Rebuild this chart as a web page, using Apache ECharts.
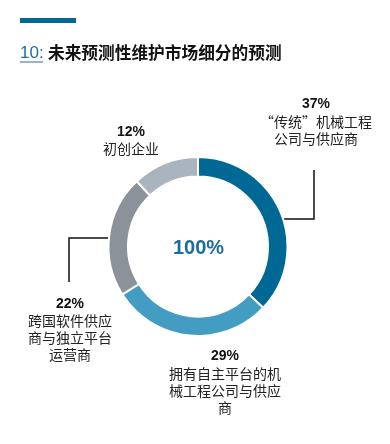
<!DOCTYPE html>
<html><head><meta charset="utf-8">
<script src="https://cdn.jsdelivr.net/npm/echarts@6/dist/echarts.min.js"></script>
<style>html,body{margin:0;padding:0;background:#fff}#c{width:390px;height:444px}</style>
</head><body><div id="c"></div>
<script>
const categories = ['“传统”机械工程\n公司与供应商', '拥有自主平台的机\n械工程公司与供应\n商', '跨国软件供应\n商与独立平台\n运营商', '初创企业'];
const values = [37, 29, 22, 12];
const colors = ['#006894', '#439cc1', '#8b9299', '#aab4bf'];
const labelAnchors = [[316, 96], [225, 348], [70, 295.5], [131, 123.5]];

const chart = echarts.init(document.getElementById('c'), null, {renderer: 'canvas'});
const FONT = '"Noto Sans CJK SC", "Liberation Sans", sans-serif';
chart.setOption({
  animation: false,
  graphic: [
    {type: 'rect', shape: {x: 20, y: 18, width: 56, height: 5}, style: {fill: '#006894'}},
    {type: 'text', x: 20, y: 53, style: {text: '10:', fill: '#1f6f9c', font: '17px "Liberation Sans", sans-serif', textVerticalAlign: 'middle'}},
    {type: 'line', shape: {x1: 20, y1: 62, x2: 43, y2: 62}, style: {stroke: '#1f6f9c', lineWidth: 1}},
    {type: 'text', x: 48, y: 53, style: {text: '未来预测性维护市场细分的预测', fill: '#111', font: 'bold 16.7px "Noto Sans CJK SC", sans-serif', textVerticalAlign: 'middle'}},
    {type: 'text', x: 198.5, y: 248, style: {text: '100%', fill: '#1b6d9c', font: 'bold 20px "Liberation Sans", sans-serif', textAlign: 'center', textVerticalAlign: 'middle'}},
    {type: 'polyline', shape: {points: [[270, 219], [314, 219], [314, 170]]}, style: {stroke: '#111', lineWidth: 1.5, fill: null}},
    {type: 'polyline', shape: {points: [[119, 238], [69, 238], [69, 282]]}, style: {stroke: '#111', lineWidth: 1.5, fill: null}}
  ],
  series: [{
    type: 'pie',
    center: [198, 246.5],
    radius: [70, 89.5],
    startAngle: 90,
    clockwise: true,
    data: categories.map((n, i) => ({name: n, value: values[i], itemStyle: {color: colors[i]}})),
    itemStyle: {borderColor: '#fff', borderWidth: 2},
    emphasis: {disabled: true},
    labelLine: {show: false},
    label: {
      show: true,
      position: 'outside',
      overflow: 'none',
      width: 200,
      formatter: p => '{p|' + p.value + '%}\n' + p.name.split('\n').map(s => '{n|' + s + '}').join('\n'),
      rich: {
        p: {fontFamily: '"Liberation Sans", sans-serif', fontWeight: 'bold', fontSize: 14, lineHeight: 17, color: '#111', align: 'center'},
        n: {fontFamily: FONT, fontSize: 14, lineHeight: 17, color: '#222', align: 'center'}
      }
    },
    labelLayout: p => ({x: labelAnchors[p.dataIndex][0], y: labelAnchors[p.dataIndex][1], align: 'center', verticalAlign: 'top'})
  }]
});
</script></body></html>
